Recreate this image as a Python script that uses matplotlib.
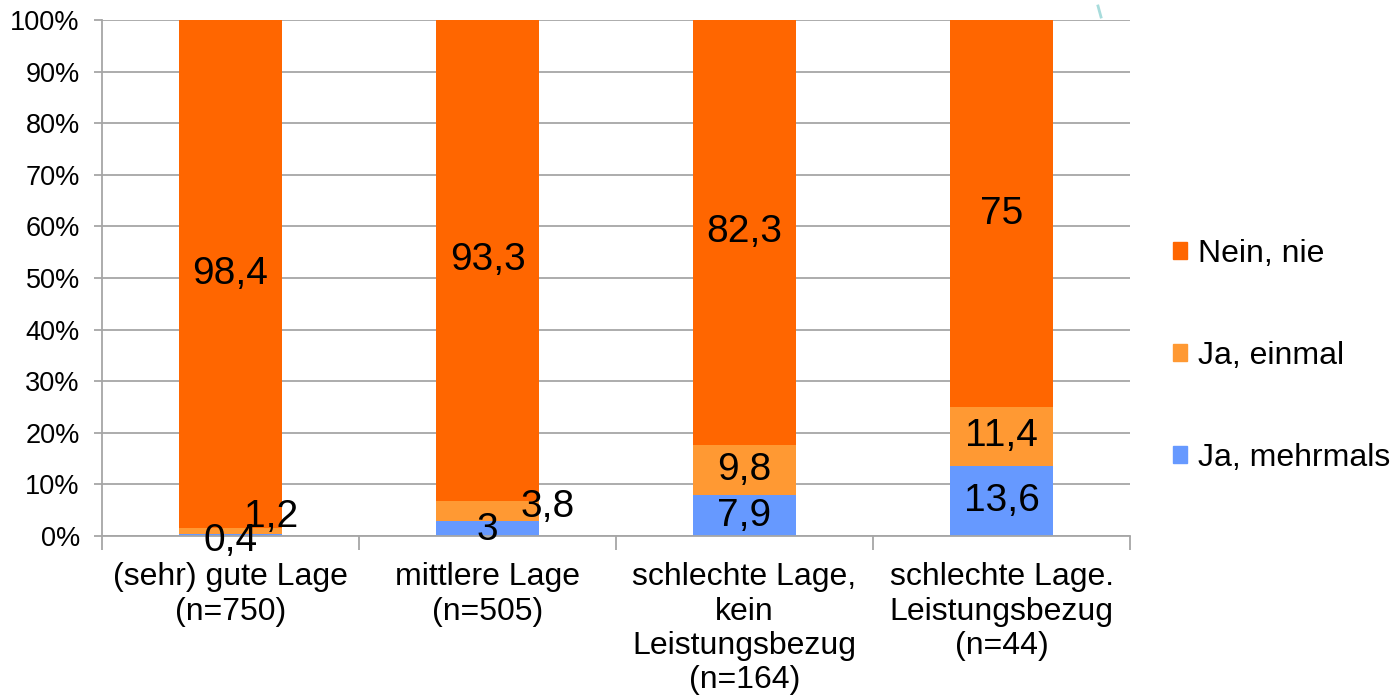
import matplotlib
matplotlib.use("Agg")
import matplotlib.pyplot as plt
from matplotlib.patches import Rectangle
from matplotlib.lines import Line2D

plt.rcParams['font.family'] = ['Liberation Sans', 'DejaVu Sans']

categories = ["(sehr) gute Lage\n(n=750)",
              "mittlere Lage\n(n=505)",
              "schlechte Lage,\nkein\nLeistungsbezug\n(n=164)",
              "schlechte Lage.\nLeistungsbezug\n(n=44)"]
series_names = ["Ja, mehrmals", "Ja, einmal", "Nein, nie"]
ja_mehrmals = [0.4, 3, 7.9, 13.6]
ja_einmal = [1.2, 3.8, 9.8, 11.4]
nein_nie = [98.4, 93.3, 82.3, 75]
value_labels = {
    "Ja, mehrmals": ["0,4", "3", "7,9", "13,6"],
    "Ja, einmal": ["1,2", "3,8", "9,8", "11,4"],
    "Nein, nie": ["98,4", "93,3", "82,3", "75"],
}
colors = {"Ja, mehrmals": "#6699FF", "Ja, einmal": "#FF9933", "Nein, nie": "#FF6600"}

# label nudges (in points) for the crowded thin segments
nudges = {
    ("Ja, mehrmals", 0): (0, -4),
    ("Ja, einmal", 0): (29, 10),
    ("Ja, mehrmals", 1): (0, -1),
    ("Ja, einmal", 1): (43, 3),
}

fig = plt.figure(figsize=(13.94, 7.0), dpi=100)
ax = fig.add_axes([102 / 1394, 1 - 536 / 700, (1130 - 102) / 1394, (536 - 20) / 700])

x = list(range(len(categories)))
width = 0.4
grid_c = "#A6A6A6"

ax.set_axisbelow(True)
ax.yaxis.grid(True, color=grid_c, linewidth=1.3)

bottoms = [0.0] * len(categories)
data = {"Ja, mehrmals": ja_mehrmals, "Ja, einmal": ja_einmal, "Nein, nie": nein_nie}
for name in series_names:
    vals = data[name]
    ax.bar(x, vals, width, bottom=bottoms, color=colors[name], label=name, linewidth=0, zorder=2)
    for i, v in enumerate(vals):
        dx, dy = nudges.get((name, i), (0, 0))
        ax.annotate(value_labels[name][i], (x[i], bottoms[i] + v / 2),
                    xytext=(dx, dy), textcoords="offset points",
                    ha="center", va="center", fontsize=28, color="black", zorder=4,
                    annotation_clip=False)
    bottoms = [b + v for b, v in zip(bottoms, vals)]

ax.set_xlim(-0.5, len(categories) - 0.5)
ax.set_ylim(0, 100)
ax.set_yticks(range(0, 101, 10))
ax.set_yticklabels([f"{t}%" for t in range(0, 101, 10)], fontsize=19.5)
ax.tick_params(axis="y", length=6, width=1.3, color=grid_c, pad=10)

# category boundaries carry the x tick marks, labels sit under the bars
ax.set_xticks([i - 0.5 for i in range(len(categories) + 1)])
ax.set_xticklabels([""] * (len(categories) + 1))
ax.set_xticks(x, minor=True)
ax.set_xticklabels(categories, minor=True, fontsize=23, linespacing=1.19)
ax.tick_params(axis="x", which="major", length=10, width=1.3, color=grid_c)
ax.tick_params(axis="x", which="minor", length=0, pad=19)

for s in ["top", "right"]:
    ax.spines[s].set_visible(False)
for s in ["left", "bottom"]:
    ax.spines[s].set_color(grid_c)
    ax.spines[s].set_linewidth(1.3)

handles = [Rectangle((0, 0), 1, 1, color=colors[n]) for n in reversed(series_names)]
fig.legend(handles, list(reversed(series_names)), loc="center left",
           bbox_to_anchor=(1144 / 1394, 1 - 356 / 700), frameon=False,
           fontsize=23, handlelength=0.45, handleheight=0.45, handletextpad=0.35,
           labelspacing=2.25)

# small stray stroke near the top edge
fig.add_artist(Line2D([1098 / 1394, 1101 / 1394], [1 - 6 / 700, 1 - 17 / 700],
                      color="#A8DCDC", linewidth=2))

fig.savefig("out.png", dpi=100)
